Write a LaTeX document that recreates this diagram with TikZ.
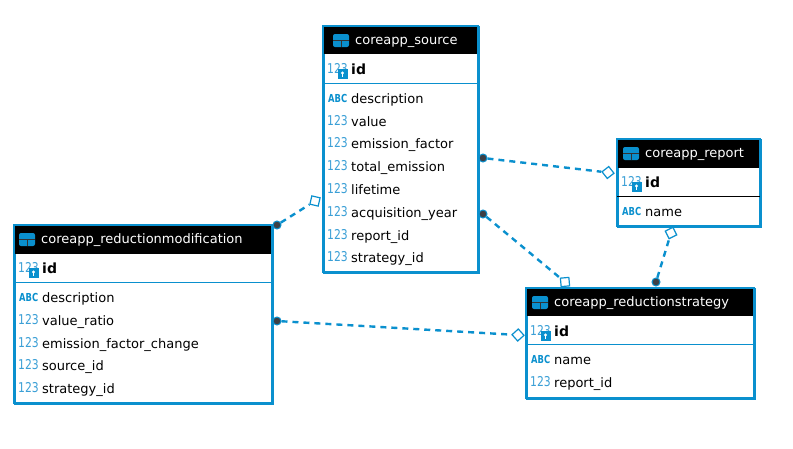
\documentclass[tikz,border=0pt]{standalone}
\usepackage{fontspec}
\setmainfont{DejaVu Sans}
\usetikzlibrary{shapes.geometric}
\definecolor{erblue}{HTML}{0A90CE}
\definecolor{iconblue}{HTML}{3A9FD6}
\definecolor{dotgray}{HTML}{3C3F45}
\tikzset{
  entitybox/.style={draw=erblue,line width=2pt,fill=white,anchor=north west,inner sep=0pt},
  entityhead/.style={fill=black,anchor=north west,inner sep=0pt},
  entitytitle/.style={anchor=base west,inner sep=0pt,text=white,font=\fontsize{13}{15}\selectfont},
  fieldtext/.style={anchor=base west,inner sep=0pt,font=\fontsize{13}{15}\selectfont},
  keytext/.style={anchor=base west,inner sep=0pt,font=\fontsize{14}{15}\selectfont\bfseries},
  numicon/.style={anchor=base west,inner sep=0pt,text=iconblue,font=\fontsize{13.5}{15}\selectfont},
  abcicon/.style={anchor=base west,inner sep=0pt,text=erblue,font=\fontsize{11}{12}\selectfont\bfseries},
  relline/.style={draw=erblue,line width=2.4pt,dash pattern=on 6pt off 5pt},
  fkdot/.style={circle,draw=erblue,fill=dotgray,line width=1pt,minimum size=8pt,inner sep=0pt},
  pkdiamond/.style={diamond,aspect=1,draw=erblue,fill=white,line width=1.2pt,minimum size=12.5pt,inner sep=0pt}
}
\newcommand{\numglyph}{\scalebox{.8}[1]{123}}
\newcommand{\abcglyph}{\scalebox{.76}[1]{ABC}}
% name, left, top, right, bottom, header bottom, rule y, rule colour, title
% the header icon starts \iconx to the right of the left side
\newcommand{\erentity}[9]{
  \node[entitybox,minimum width={(#4-#2)*1pt},minimum height={(#5-#3)*1pt}] (#1) at (#2,#3) {};
  \node[entityhead,minimum width={(#4-#2)*1pt},minimum height={(#6-#3)*1pt}] (#1-head) at (#2,#3) {};
  \draw[erblue,line width=2pt] (#2,#3) rectangle (#4,#5);
  \draw[#8,line width=1pt] (#2,#7) -- (#4,#7);
  \fill[erblue,rounded corners=2pt] (#2+\iconx,#3+8) rectangle (#2+\iconx+16,#3+21);
  \draw[black!80,line width=1pt] (#2+\iconx,#3+14.5) -- (#2+\iconx+16,#3+14.5) (#2+\iconx+8,#3+14.5) -- (#2+\iconx+8,#3+21);
  \node[entitytitle] (#1-title) at (#2+\iconx+22,#3+18.5) {#9};
}
\newcommand{\keyfield}[4]{
  \node[numicon] (#1-icon) at (#2+4,#3+4) {\numglyph};
  \fill[erblue] (#2+14.5,#3) rectangle (#2+24.5,#3+10);
  \fill[white] (#2+19.5,#3+4) circle (1.7);
  \fill[white] (#2+18.9,#3+4) rectangle (#2+20.1,#3+8);
  \node[keytext] (#1-key) at (#2+28,#3+5) {#4};
}
\newcommand{\numfield}[4]{
  \node[numicon] (#1-icon) at (#2+4,#3+4) {\numglyph};
  \node[fieldtext] (#1-text) at (#2+28,#3+5) {#4};
}
\newcommand{\abcfield}[4]{
  \node[abcicon] (#1-icon) at (#2+5,#3+4) {\abcglyph};
  \node[fieldtext] (#1-text) at (#2+28,#3+5) {#4};
}
\begin{document}
\begin{tikzpicture}[x=1pt,y=-1pt]
  \useasboundingbox (0,0) rectangle (793,448);

  \def\iconx{10}
  \erentity{source}{323}{26}{478}{272}{54}{83.5}{erblue}{coreapp\_source}
  \keyfield{source-id}{323}{69}{id}
  \abcfield{source-description}{323}{98}{description}
  \foreach \fy/\ftext [count=\fnum] in {121/value,143/emission\_factor,166/total\_emission,189/lifetime,212/acquisition\_year,235/report\_id,257/strategy\_id}{
    \numfield{source-\fnum}{323}{\fy}{\ftext}
  }

  \def\iconx{6}
  \erentity{report}{617}{139}{760}{226}{168}{196}{black}{coreapp\_report}
  \keyfield{report-id}{617}{182}{id}
  \abcfield{report-name}{617}{211}{name}

  \def\iconx{5}
  \erentity{modification}{14}{225}{272}{403}{254}{282.5}{erblue}{coreapp\_reductionmodification}
  \keyfield{modification-id}{14}{268}{id}
  \abcfield{modification-description}{14}{297}{description}
  \foreach \fy/\ftext [count=\fnum] in {320/value\_ratio,343/emission\_factor\_change,365/source\_id,388/strategy\_id}{
    \numfield{modification-\fnum}{14}{\fy}{\ftext}
  }

  \def\iconx{6}
  \erentity{strategy}{526}{288}{754}{398}{316}{344.5}{erblue}{coreapp\_reductionstrategy}
  \keyfield{strategy-id}{526}{331}{id}
  \abcfield{strategy-name}{526}{359}{name}
  \numfield{strategy-1}{526}{382}{report\_id}

  % relations
  \node[pkdiamond,rotate=-7] (diamond-report) at (608,172.5) {};
  \node[fkdot] (dot-report) at (483,158) {};
  \draw[relline] (dot-report) -- (diamond-report);

  \node[pkdiamond,rotate=-40] (diamond-source) at (565,282) {};
  \node[fkdot] (dot-source) at (483,214) {};
  \draw[relline] (dot-source) -- (diamond-source);

  \node[pkdiamond,rotate=72] (diamond-top) at (671,233) {};
  \node[fkdot] (dot-strategy) at (656,282) {};
  \draw[relline] (dot-strategy) -- (diamond-top);

  \node[pkdiamond,rotate=32] (diamond-left) at (315,201) {};
  \node[fkdot] (dot-modification) at (277,225) {};
  \draw[relline] (dot-modification) -- (diamond-left);

  \node[pkdiamond,rotate=-3] (diamond-strategy) at (518,335) {};
  \node[fkdot] (dot-lower) at (277,321) {};
  \draw[relline] (dot-lower) -- (diamond-strategy);
\end{tikzpicture}
\end{document}
